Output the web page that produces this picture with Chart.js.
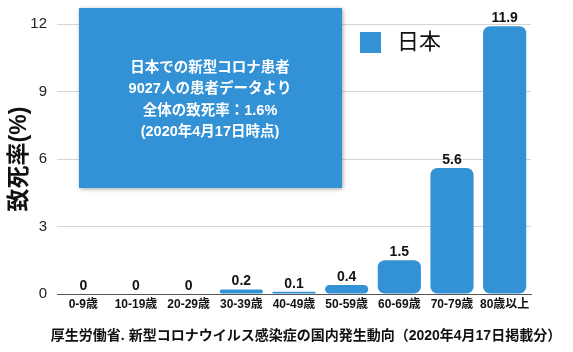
<!DOCTYPE html>
<html>
<head>
<meta charset="utf-8">
<script src="https://cdn.jsdelivr.net/npm/chart.js@4"></script>
<style>
  html, body { margin: 0; padding: 0; background: #fff; }
  #wrap { width: 573px; height: 352px; }
</style>
</head>
<body>
<div id="wrap"><canvas id="chart" width="573" height="352"></canvas></div>
<script>
var ages = ['0-9歳', '10-19歳', '20-29歳', '30-39歳', '40-49歳', '50-59歳', '60-69歳', '70-79歳', '80歳以上'];
var deathRate = [0, 0, 0, 0.2, 0.1, 0.4, 1.5, 5.6, 11.9];
var yTicks = [0, 3, 6, 9, 12];
var boxLines = ['日本での新型コロナ患者', '9027人の患者データより', '全体の致死率：1.6%', '(2020年4月17日時点)'];
var caption = '厚生労働省. 新型コロナウイルス感染症の国内発生動向（2020年4月17日掲載分）';

var FONT = '"Liberation Sans", "Noto Sans CJK JP", sans-serif';
var BLUE = '#3391d6';

// labels, note box, legend and caption
var extras = {
  id: 'extras',
  afterDatasetsDraw: function(chart) {
    var c = chart.ctx;
    var meta = chart.getDatasetMeta(0);
    c.save();
    c.fillStyle = '#111';
    c.font = 'bold 14px ' + FONT;
    c.textAlign = 'center';
    c.textBaseline = 'bottom';
    meta.data.forEach(function(bar, i) {
      c.fillText(deathRate[i], bar.x, bar.y - 1);
    });

    // note box
    c.shadowColor = 'rgba(0,0,0,0.35)';
    c.shadowBlur = 4;
    c.shadowOffsetX = 1;
    c.shadowOffsetY = 1;
    c.fillStyle = BLUE;
    c.fillRect(79, 8, 263, 180);
    c.shadowColor = 'transparent';
    c.fillStyle = '#fff';
    c.font = 'bold 14.5px ' + FONT;
    c.textBaseline = 'middle';
    boxLines.forEach(function(t, i) {
      c.fillText(t, 210, 68 + i * 21.3);
    });

    // legend
    c.fillStyle = BLUE;
    c.fillRect(360, 32, 21, 21);
    c.fillStyle = '#111';
    c.font = '22px ' + FONT;
    c.textAlign = 'left';
    c.fillText(chart.data.datasets[0].label, 397, 43);

    // caption
    c.font = 'bold 14px ' + FONT;
    c.textAlign = 'center';
    c.fillText(caption, 306, 336);
    c.restore();
  }
};

new Chart(document.getElementById('chart').getContext('2d'), {
  type: 'bar',
  data: {
    labels: ages,
    datasets: [{
      label: '日本',
      data: deathRate,
      backgroundColor: BLUE,
      borderRadius: 7,
      borderSkipped: false,
      categoryPercentage: 1,
      barPercentage: 0.82
    }]
  },
  options: {
    responsive: false,
    animation: false,
    layout: { padding: { top: 24, right: 42, bottom: 0, left: 0 } },
    plugins: { legend: { display: false }, tooltip: { enabled: false } },
    scales: {
      x: {
        grid: { display: false, drawTicks: false },
        border: { color: '#555', width: 1 },
        ticks: { color: '#111', font: { family: FONT, size: 12, weight: 'bold' }, padding: 3, maxRotation: 0, autoSkip: false },
        afterFit: function(s) { s.height = 58; }
      },
      y: {
        min: 0,
        max: 12,
        afterBuildTicks: function(s) { s.ticks = yTicks.map(function(v) { return { value: v }; }); },
        grid: { color: '#d4d4d4', drawTicks: false },
        border: { display: false },
        ticks: { color: '#222', font: { family: FONT, size: 15 }, padding: 10 },
        title: { display: true, text: '致死率(%)', color: '#111', font: { family: FONT, size: 23, weight: 'bold' }, padding: { top: 6, bottom: 2 } },
        afterFit: function(s) { s.width = 57; }
      }
    }
  },
  plugins: [extras]
});
</script>
</body>
</html>
